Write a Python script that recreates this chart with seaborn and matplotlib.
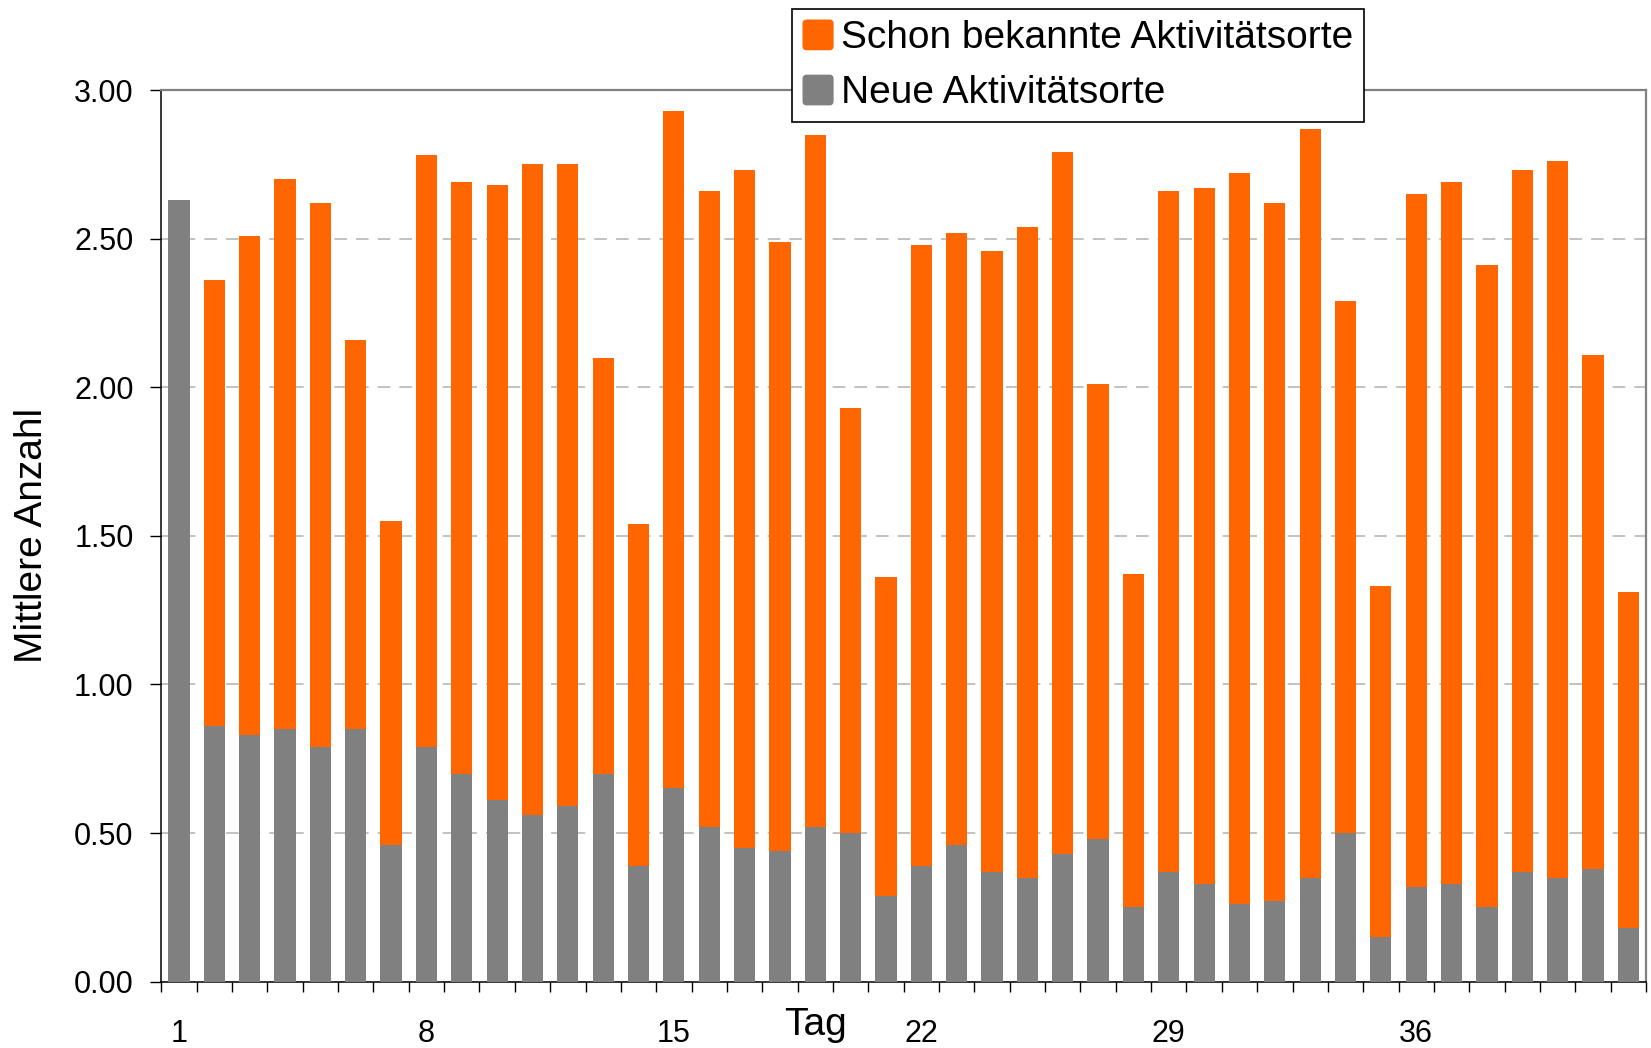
import numpy as np
import pandas as pd
import seaborn as sns
import matplotlib.pyplot as plt
from matplotlib.patches import Patch, FancyBboxPatch
from matplotlib.legend_handler import HandlerPatch

# Mean number of activity locations per day, split into new and already known places
tage = list(range(1, 43))
neue = [2.63, 0.86, 0.83, 0.85, 0.79, 0.85, 0.46, 0.79, 0.70, 0.61, 0.56, 0.59, 0.70, 0.39,
        0.65, 0.52, 0.45, 0.44, 0.52, 0.50, 0.29, 0.39, 0.46, 0.37, 0.35, 0.43, 0.48, 0.25,
        0.37, 0.33, 0.26, 0.27, 0.35, 0.50, 0.15, 0.32, 0.33, 0.25, 0.37, 0.35, 0.38, 0.18]
bekannt = [0.00, 1.50, 1.68, 1.85, 1.83, 1.31, 1.09, 1.99, 1.99, 2.07, 2.19, 2.16, 1.40, 1.15,
           2.28, 2.14, 2.28, 2.05, 2.33, 1.43, 1.07, 2.09, 2.06, 2.09, 2.19, 2.36, 1.53, 1.12,
           2.29, 2.34, 2.46, 2.35, 2.52, 1.79, 1.18, 2.33, 2.36, 2.16, 2.36, 2.41, 1.73, 1.13]
tick_tage = [1, 8, 15, 22, 29, 36]
y_ticks = [0.0, 0.5, 1.0, 1.5, 2.0, 2.5, 3.0]

ORANGE = "#FF6600"
GRAU = "#808080"

df = pd.DataFrame({"Tag": tage, "Neue": neue, "Bekannt": bekannt})
df["Gesamt"] = df["Neue"] + df["Bekannt"]

sns.set_theme(style="white")
plt.rcParams["font.family"] = ["Liberation Sans", "DejaVu Sans"]
plt.rcParams["text.color"] = "black"
plt.rcParams["axes.labelcolor"] = "black"
plt.rcParams["xtick.color"] = "black"
plt.rcParams["ytick.color"] = "black"

W, H = 1651, 1048
fig = plt.figure(figsize=(W / 100, H / 100), dpi=100)
left, right, top, bottom = 161.3, 1646.0, 90.0, 981.7
ax = fig.add_axes([left / W, 1 - bottom / H, (right - left) / W, (bottom - top) / H])

# stacked bars: total in orange, new places in grey over the lower part
sns.barplot(data=df, x="Tag", y="Gesamt", color=ORANGE, saturation=1, width=0.6,
            ax=ax, zorder=3, linewidth=0)
sns.barplot(data=df, x="Tag", y="Neue", color=GRAU, saturation=1, width=0.6,
            ax=ax, zorder=3, linewidth=0)

ax.set_xlim(-0.5, len(tage) - 0.5)
ax.set_ylim(0, 3)
ax.set_axisbelow(True)

# y axis
ax.set_yticks(y_ticks)
ax.set_yticklabels([f"{v:.2f}" for v in y_ticks])
ax.yaxis.grid(True, color="#BDBDBD", linestyle=(0, (7, 5)), linewidth=1.3)
ax.xaxis.grid(False)
ax.tick_params(axis="y", direction="out", length=8, width=1, color="black",
               pad=12, labelsize=22, labelcolor="black", left=True)

# x axis: labels every 7th day, small ticks between the bars
pos = [tage.index(t) for t in tick_tage]
ax.set_xticks(pos)
ax.set_xticklabels([str(t) for t in tick_tage])
ax.set_xticks(np.arange(-0.5, len(tage), 1.0), minor=True)
ax.tick_params(axis="x", which="major", length=0, pad=27, labelsize=22, labelcolor="black")
ax.tick_params(axis="x", which="minor", direction="out", length=7.5, width=1,
               color="black", bottom=True)

for side in ["top", "right"]:
    ax.spines[side].set_color(GRAU)
    ax.spines[side].set_linewidth(1.6)
for side in ["left", "bottom"]:
    ax.spines[side].set_color("black")
    ax.spines[side].set_linewidth(1.1)
    ax.spines[side].set_visible(True)

ax.set_xlabel("Tag", fontsize=28, color="black")
ax.xaxis.set_label_coords(0.4403, -0.028)
ax.set_ylabel("Mittlere Anzahl", fontsize=28, color="black")
ax.yaxis.set_label_coords(-0.075, 0.5)


def rounded_key(legend, orig_handle, xdescent, ydescent, width, height, fontsize):
    return FancyBboxPatch((-xdescent, -ydescent), width, height,
                          boxstyle="round,pad=0,rounding_size=3")


handles = [Patch(facecolor=ORANGE, edgecolor="none", label="Schon bekannte Aktivitätsorte"),
           Patch(facecolor=GRAU, edgecolor="none", label="Neue Aktivitätsorte")]
leg = fig.legend(handles=handles, loc="upper left", bbox_to_anchor=(792 / W, 1 - 9.0 / H),
                 fontsize=28, frameon=True, fancybox=False, edgecolor="black", framealpha=1,
                 handlelength=0.8, handleheight=0.84, handletextpad=0.2,
                 borderpad=0.27, labelspacing=0.47, borderaxespad=0, labelcolor="black",
                 handler_map={Patch: HandlerPatch(patch_func=rounded_key)})
leg.get_frame().set_linewidth(1.2)

fig.savefig("out.png", dpi=100)
